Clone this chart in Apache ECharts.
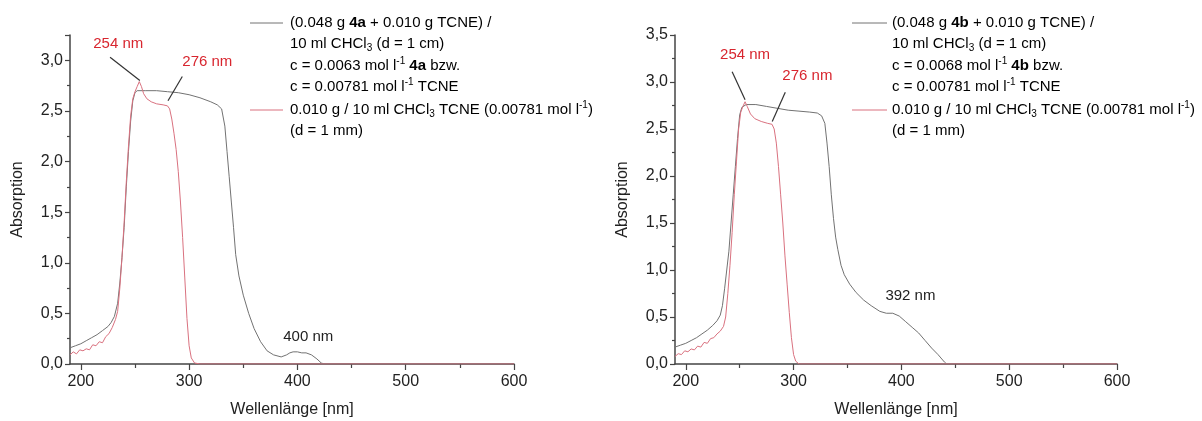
<!DOCTYPE html>
<html><head><meta charset="utf-8">
<script src="https://cdn.jsdelivr.net/npm/echarts@6/dist/echarts.min.js"></script>
<style>html,body{margin:0;padding:0;background:#fff}#c{width:1202px;height:421px}</style>
</head><body><div id="c"></div><script>
// ---- data ----
const xTickValues = [200, 300, 400, 500, 600];
const xMinorTickValues = [250, 350, 450, 550];
const xAxisTitle = 'Wellenlänge [nm]';
const yAxisTitle = 'Absorption';

// Left panel: 4a + TCNE (gray) and TCNE (red)
const mix4a = [
  [190,0.16],[195,0.18],[200,0.20],[205,0.23],[210,0.26],[215,0.29],[220,0.33],[225,0.37],[228,0.41],[231,0.47],
  [234,0.60],[236,0.80],[238,1.05],[240,1.35],[242,1.75],[244,2.10],[246,2.40],[248,2.60],[250,2.68],[252,2.70],
  [260,2.70],[270,2.70],[280,2.69],[290,2.68],[300,2.66],[310,2.63],[320,2.59],[326,2.56],[330,2.52],[333,2.35],
  [335,2.10],[337,1.85],[339,1.60],[341,1.35],[343,1.08],[346,0.87],[350,0.68],[355,0.50],[360,0.35],[366,0.22],
  [372,0.13],[378,0.09],[385,0.07],[390,0.09],[393,0.11],[396,0.12],[400,0.12],[404,0.11],[408,0.11],[413,0.09],
  [418,0.05],[422,0.01],[425,0],[600,0]
];
const tcneLeft = [
  [190,0.09],[193,0.12],[196,0.10],[199,0.14],[202,0.13],[205,0.15],[208,0.14],[211,0.19],[214,0.18],[217,0.22],
  [220,0.21],[223,0.27],[226,0.30],[229,0.36],[232,0.44],[234,0.52],[236,0.75],[238,1.05],[240,1.40],[242,1.80],
  [244,2.15],[246,2.45],[248,2.62],[250,2.69],[252,2.74],[254,2.79],[256,2.74],[258,2.67],[261,2.62],[265,2.59],
  [270,2.57],[276,2.56],[280,2.55],[282,2.52],[284,2.42],[286,2.28],[288,2.12],[290,1.90],[292,1.60],[294,1.25],
  [296,0.85],[298,0.45],[300,0.18],[302,0.06],[305,0.01],[310,0],[600,0]
];

// Right panel: 4b + TCNE (gray) and TCNE (red)
const mix4b = [
  [190,0.18],[195,0.20],[200,0.22],[205,0.25],[210,0.28],[215,0.32],[220,0.36],[225,0.41],[229,0.46],[232,0.52],
  [234,0.62],[236,0.80],[238,1.00],[240,1.20],[242,1.50],[244,1.80],[246,2.10],[248,2.40],[250,2.65],[252,2.73],
  [256,2.76],[265,2.76],[275,2.74],[285,2.72],[295,2.70],[305,2.69],[315,2.68],[322,2.67],[326,2.64],[329,2.56],
  [331,2.35],[333,2.10],[335,1.80],[337,1.55],[339,1.35],[341,1.22],[344,1.05],[347,0.95],[352,0.85],[358,0.76],
  [365,0.68],[372,0.62],[380,0.56],[386,0.54],[392,0.54],[398,0.51],[404,0.45],[410,0.39],[416,0.33],[422,0.25],
  [428,0.17],[434,0.10],[440,0.02],[442,0],[600,0]
];
const tcneRight = [
  [190,0.08],[193,0.11],[196,0.10],[199,0.14],[202,0.13],[205,0.16],[208,0.15],[211,0.19],[214,0.18],[217,0.23],
  [220,0.22],[223,0.27],[226,0.28],[229,0.32],[232,0.35],[235,0.40],[237,0.50],[239,0.75],[241,1.05],[243,1.40],
  [245,1.80],[247,2.15],[249,2.50],[251,2.68],[253,2.74],[255,2.79],[257,2.74],[260,2.66],[264,2.61],[270,2.58],
  [276,2.56],[280,2.55],[282,2.50],[284,2.35],[286,2.10],[288,1.80],[290,1.50],[292,1.15],[294,0.85],[296,0.55],
  [298,0.28],[300,0.10],[302,0.03],[305,0],[600,0]
];

// annotation texts and their anchor points (data space)
const labelsLeft = [
  {name:'254 nm', coord:[234.6,3.16], red:true},
  {name:'276 nm', coord:[316.8,2.98], red:true},
  {name:'400 nm', coord:[410,0.27], red:false}
];
const arrowsLeft = [
  [[227,3.03],[254.5,2.80]],
  [[293.7,2.84],[280.5,2.60]]
];
const labelsRight = [
  {name:'254 nm', coord:[255,3.29], red:true},
  {name:'276 nm', coord:[312.8,3.07], red:true},
  {name:'392 nm', coord:[408.4,0.73], red:false}
];
const arrowsRight = [
  [[243,3.11],[255,2.81]],
  [[292.3,2.89],[280.2,2.58]]
];

// legend texts
const legendLeft = [
  '{n|(0.048 g }{b|4a}{n| + 0.010 g TCNE) /}',
  '{n|10 ml CHCl}{sub|3}{n| (d = 1 cm)}',
  '{n|c = 0.0063 mol l}{sup|-1}{n| }{b|4a}{n| bzw.}',
  '{n|c = 0.00781 mol l}{sup|-1}{n| TCNE}',
  '{n|0.010 g / 10 ml CHCl}{sub|3}{n| TCNE (0.00781 mol l}{sup|-1}{n|)}',
  '{n|(d = 1 mm)}'
];
const legendRight = [
  '{n|(0.048 g }{b|4b}{n| + 0.010 g TCNE) /}',
  '{n|10 ml CHCl}{sub|3}{n| (d = 1 cm)}',
  '{n|c = 0.0068 mol l}{sup|-1}{n| }{b|4b}{n| bzw.}',
  '{n|c = 0.00781 mol l}{sup|-1}{n| TCNE}',
  '{n|0.010 g / 10 ml CHCl}{sub|3}{n| TCNE (0.00781 mol l}{sup|-1}{n|)}',
  '{n|(d = 1 mm)}'
];

// ---- styling / layout ----
const FONT = '"Liberation Sans", Arial, sans-serif';
const GRAY = '#727272';
const RED = '#d9717f';
const ANNO_RED = '#d8262f';
const AXIS = '#444';
const TXT = '#222';

const panels = [
  {left:70, width:444, yMax:3.25, mix:mix4a, tcne:tcneLeft, labels:labelsLeft, arrows:arrowsLeft,
   legend:legendLeft, legX1:250, legX2:283, legTextX:290},
  {left:675, width:442, yMax:3.5, mix:mix4b, tcne:tcneRight, labels:labelsRight, arrows:arrowsRight,
   legend:legendRight, legX1:852, legX2:887, legTextX:892}
];
const legendRowY = [23, 44, 66, 87, 110, 131];

const rich = {
  n:{fontSize:15, fontFamily:FONT, color:TXT},
  b:{fontSize:15, fontFamily:FONT, color:TXT, fontWeight:'bold'},
  sub:{fontSize:10, fontFamily:FONT, color:TXT, padding:[9,0,0,0]},
  sup:{fontSize:10, fontFamily:FONT, color:TXT, padding:[0,0,9,0]}
};

const grid = [], xAxis = [], yAxis = [], series = [], graphic = [];
panels.forEach((p, i) => {
  grid.push({left:p.left, width:p.width, top:35, height:329, containLabel:false, outerBoundsMode:'none'});
  xAxis.push({
    type:'value', gridIndex:i, min:190, max:600,
    name:xAxisTitle, nameLocation:'middle', nameGap:38,
    nameTextStyle:{fontSize:16, fontFamily:FONT, color:TXT},
    axisLine:{show:true, onZero:false, lineStyle:{color:AXIS, width:1.5}},
    axisTick:{show:true, inside:false, length:6, customValues:xTickValues, lineStyle:{color:AXIS, width:1.2}},
    axisLabel:{show:true, customValues:xTickValues, margin:10, fontSize:16, fontFamily:FONT, color:TXT},
    splitLine:{show:false}
  });
  xAxis.push({
    type:'value', gridIndex:i, min:190, max:600, position:'bottom',
    axisLine:{show:false, onZero:false},
    axisTick:{show:true, inside:false, length:4, customValues:xMinorTickValues, lineStyle:{color:AXIS, width:1.2}},
    axisLabel:{show:false},
    splitLine:{show:false}
  });
  yAxis.push({
    type:'value', gridIndex:i, min:0, max:p.yMax, interval:0.5,
    name:yAxisTitle, nameLocation:'middle', nameGap:44, nameRotate:90,
    nameTextStyle:{fontSize:16, fontFamily:FONT, color:TXT},
    axisLine:{show:true, onZero:false, lineStyle:{color:AXIS, width:1.5}},
    axisTick:{show:true, inside:false, length:5, lineStyle:{color:AXIS, width:1.2}},
    minorTick:{show:true, splitNumber:2, length:3, lineStyle:{color:AXIS, width:1.2}},
    axisLabel:{margin:7, fontSize:16, fontFamily:FONT, color:TXT,
      formatter:v => (Math.abs(v*2 - Math.round(v*2)) > 1e-6) ? '' : v.toFixed(1).replace('.', ',')},
    splitLine:{show:false}, minorSplitLine:{show:false}
  });
  series.push({
    type:'line', name:'mix'+i, xAxisIndex:2*i, yAxisIndex:i, data:p.mix,
    showSymbol:false, symbol:'none', lineStyle:{color:GRAY, width:1}, animation:false, z:2
  });
  series.push({
    type:'line', name:'tcne'+i, xAxisIndex:2*i, yAxisIndex:i, data:p.tcne,
    showSymbol:false, symbol:'none', lineStyle:{color:RED, width:1}, animation:false, z:3,
    markPoint:{
      symbol:'circle', symbolSize:1, itemStyle:{color:'rgba(0,0,0,0)'}, silent:true, animation:false,
      label:{show:true, position:'inside', formatter:q => q.name, fontSize:15, fontFamily:FONT},
      data:p.labels.map(l => ({name:l.name, coord:l.coord, label:{color:l.red ? ANNO_RED : TXT}}))
    },
    markLine:{
      silent:true, animation:false, symbol:['none','arrow'], symbolSize:[0,8],
      label:{show:false}, lineStyle:{color:'#333', width:1.2, type:'solid'},
      data:p.arrows.map(a => [{coord:a[0]},{coord:a[1]}])
    }
  });
  graphic.push({type:'line', shape:{x1:p.legX1, y1:legendRowY[0], x2:p.legX2, y2:legendRowY[0]}, style:{stroke:GRAY, lineWidth:1}});
  graphic.push({type:'line', shape:{x1:p.legX1, y1:legendRowY[4], x2:p.legX2, y2:legendRowY[4]}, style:{stroke:RED, lineWidth:1}});
  p.legend.forEach((t, k) => {
    graphic.push({type:'text', x:p.legTextX, y:legendRowY[k],
      style:{text:t, rich:rich, verticalAlign:'middle', align:'left'}});
  });
});

const chart = echarts.init(document.getElementById('c'), null, {renderer:'canvas'});
chart.setOption({animation:false, backgroundColor:'#fff', grid, xAxis, yAxis, series, graphic});
</script></body></html>
